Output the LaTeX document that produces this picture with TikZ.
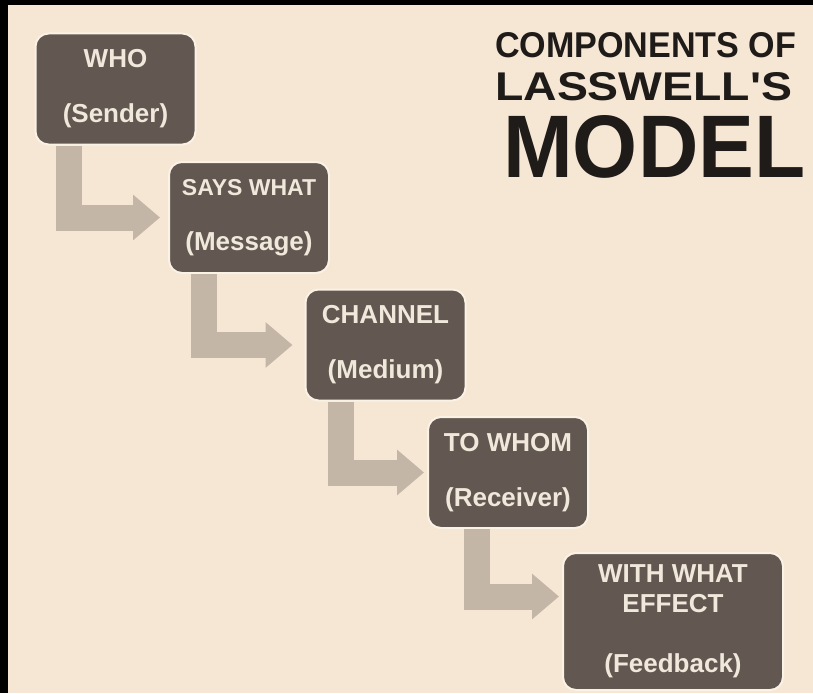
\documentclass[tikz,border=0pt]{standalone}
\usepackage{fontspec}
\setmainfont{Liberation Sans}
\usetikzlibrary{arrows.meta,positioning}

\definecolor{Paper}{HTML}{F6E6D4}
\definecolor{BoxFill}{HTML}{625851}
\definecolor{BoxEdge}{HTML}{FBF2E6}
\definecolor{BoxText}{HTML}{F1E8DC}
\definecolor{Band}{HTML}{C4B6A6}
\definecolor{Ink}{HTML}{1E1B19}

\begin{document}
\begin{tikzpicture}[x=1pt,y=-1pt]
				\tikzstyle{Stage} 	= [draw=BoxEdge, line width=2pt, fill=BoxFill, rounded corners=13pt, minimum width=160pt, minimum height=111pt, inner sep=0pt, align=center, text=BoxText, font=\fontsize{26}{30}\selectfont\bfseries]
				\tikzstyle{Wide}	= [minimum width=220pt, minimum height=137pt]
				\tikzstyle{Flow}	= [draw=Band, line width=26pt, line join=miter, -{Triangle[width=44pt,length=27pt]}]
				\tikzstyle{Title}	= [anchor=base west, inner sep=0pt, text=Ink, font=\bfseries]
				
				\fill [black] (0,0) rectangle (813,693);
				\fill [Paper] (8,5) rectangle (813,693);
				\useasboundingbox (0,0) rectangle (813,693);
				
				\node (t1) at (495,57) [Title] {\resizebox{301pt}{25pt}{COMPONENTS OF}};
				\node (t2) at (495,100) [Title] {\resizebox{297pt}{28pt}{LASSWELL\textquotesingle S}};
				\node (t3) at (503,177) [Title] {\resizebox{302pt}{62pt}{MODEL}};
				
				\node (who) at (115.5,89) [Stage] {WHO\\[25pt](Sender)};
				\node (says) at (249,217.5) [Stage] {{\fontsize{23}{30}\selectfont SAYS WHAT}\\[25pt](Message)};
				\node (channel) at (385.5,345) [Stage] {CHANNEL\\[25pt](Medium)};
				\node (towhom) at (508,472.5) [Stage] {TO WHOM\\[25pt](Receiver)};
				\node (effect) at (673,621.5) [Stage][Wide] {WITH WHAT\\EFFECT\\[30pt](Feedback)};
				
				\draw [Flow] ([xshift=34pt]who.south west) |- ([xshift=-8pt]says.west);
				\draw [Flow] ([xshift=36pt]says.south west) |- ([xshift=-12pt]channel.west);
				\draw [Flow] ([xshift=36pt]channel.south west) |- ([xshift=-3pt]towhom.west);
				\draw [Flow] ([xshift=50pt]towhom.south west) |- ([xshift=-3pt,yshift=25pt]effect.west);
			\end{tikzpicture}
\end{document}
